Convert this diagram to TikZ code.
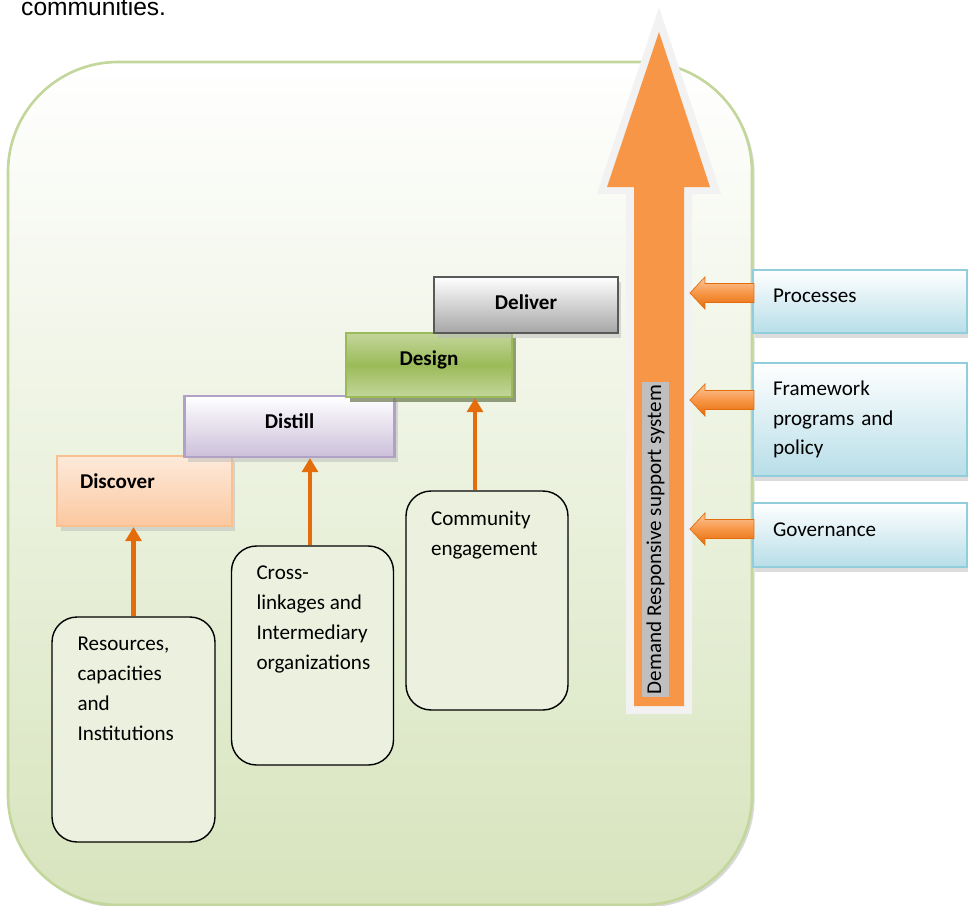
\documentclass[tikz,border=0pt]{standalone}
\usepackage{fontspec}
\setmainfont{Carlito}
\newfontfamily\arialfont{Liberation Sans}
\usepackage{tikz}
\usetikzlibrary{arrows.meta, positioning, shadows, calc}

\definecolor{frameline}{HTML}{C3D69B}
\definecolor{framebottom}{HTML}{D7E4BD}
\definecolor{boxgreen}{HTML}{EBF1DE}
\definecolor{peachtop}{HTML}{FDEADA}
\definecolor{peachbot}{HTML}{FBC8A0}
\definecolor{peachline}{HTML}{FAC090}
\definecolor{lilac}{HTML}{CCC0DA}
\definecolor{lilacline}{HTML}{B2A1C7}
\definecolor{olivelight}{HTML}{C3D69B}
\definecolor{olive}{HTML}{9BBB59}
\definecolor{olivedark}{HTML}{4F6228}
\definecolor{greymid}{HTML}{A6A6A6}
\definecolor{greydark}{HTML}{595959}
\definecolor{bluebot}{HTML}{B7DEE8}
\definecolor{blueline}{HTML}{92CDDC}
\definecolor{orangemain}{HTML}{F79646}
\definecolor{orangedark}{HTML}{E46C0A}
\definecolor{orangelight}{HTML}{FBC79F}
\definecolor{rimgrey}{HTML}{F2F2F2}
\definecolor{labelgrey}{HTML}{BFBFBF}

\begin{document}
\begin{tikzpicture}[x=0.02cm, y=-0.02cm,
    every node/.style={font=\fontsize{12}{17}\selectfont},
    frame/.style={draw=frameline, line width=1.5pt, rounded corners=2.2cm,
        top color=white, bottom color=framebottom,
        drop shadow={shadow xshift=1.5pt, shadow yshift=-1.5pt, fill=gray!60}},
    stair/.style={rectangle, line width=1.2pt, font=\fontsize{12}{14}\selectfont\bfseries,
        drop shadow={shadow xshift=2pt, shadow yshift=-3pt, fill=gray!55}},
    lowbox/.style={draw=black, line width=0.8pt, rounded corners=0.5cm, fill=boxgreen,
        inner xsep=0.5cm, inner ysep=0.4cm},
    sidebox/.style={rectangle, draw=blueline, line width=1.2pt, top color=white, bottom color=bluebot,
        minimum width=4.28cm, text width=3.48cm, inner xsep=0.4cm, align=left,
        drop shadow={shadow xshift=1pt, shadow yshift=-3pt, fill=gray!55}},
    syslabel/.style={rectangle, fill=labelgrey, rotate=90, inner sep=0pt,
        minimum width=6.3cm, minimum height=0.54cm, font=\fontsize{12}{14}\selectfont},
    feed/.style={-{Triangle[width=9pt, length=8pt]}, line width=2.3pt, orangedark},
    blockarrow/.style={draw=orangedark, line width=0.4pt, top color=orangelight,
        bottom color=orangedark, middle color=orangemain}
]
\useasboundingbox (0,0) rectangle (968,906);
\node[anchor=base west, font=\arialfont\fontsize{14}{16}\selectfont] (intro) at (15,15) {communities.};

% background panel
\path[frame] (8,62) rectangle (752,905);

% steps
\node[stair, draw=peachline, top color=peachtop, bottom color=peachbot, minimum width=3.5cm,
    minimum height=1.4cm, text width=2.58cm, inner xsep=0.46cm, align=left, text depth=11pt]
    (discover) at (144.5,491) {Discover};
\node[stair, draw=lilacline, top color=white, bottom color=lilac, minimum width=4.2cm,
    minimum height=1.22cm, text depth=6pt] (distill) at (289.5,426.5) {Distill};
\node[stair, draw=olive, top color=olivelight, bottom color=olivelight, middle color=olive,
    minimum width=3.32cm, minimum height=1.28cm, text depth=8pt,
    drop shadow={shadow xshift=2pt, shadow yshift=-3pt, fill=olivedark}] (design) at (429,365) {Design};
\node[stair, draw=greydark, top color=white, bottom color=greymid, minimum width=3.68cm,
    minimum height=1.12cm, text depth=3pt] (deliver) at (526,305) {Deliver};

% inputs below the steps
\node[lowbox, minimum width=3.26cm, minimum height=4.5cm] (res) at (133.5,729.5)
    {\parbox[c][3.7cm][t]{2.24cm}{Resources,\\capacities\\and\\Institutions}};
\node[lowbox, minimum width=3.22cm, minimum height=4.38cm] (cross) at (312.5,655.5)
    {\parbox[c][3.58cm][t]{2.24cm}{Cross-\\linkages and\\Intermediary\\organizations}};
\node[lowbox, minimum width=3.24cm, minimum height=4.38cm] (comm) at (487,600.5)
    {\parbox[c][3.58cm][t]{2.24cm}{Community\\engagement}};

\draw[feed] (res.north) -- (res.north |- discover.south);
\draw[feed] ([xshift=-0.05cm]cross.north) -- ([xshift=-0.05cm]cross.north |- distill.south);
\draw[feed] ([xshift=-0.24cm]comm.north) -- ([xshift=-0.24cm]comm.north |- design.south);

% big upward arrow
\fill[rimgrey] (659,7) -- (721,194) -- (692,194) -- (692,714) -- (626,714) -- (626,194) -- (597,194) -- cycle;
\fill[orangemain] (659,32) -- (710,187) -- (684,187) -- (684,706) -- (634,706) -- (634,187) -- (607,187) -- cycle;
\node[syslabel] (system) at (655.5,539.5) {Demand Responsive support system};

% side boxes
\node[sidebox, minimum height=1.26cm, text depth=6pt] (proc) at (860,301.5) {Processes};
\node[sidebox, minimum height=2.26cm] (frmwk) at (860,419.5) {Framework\\programs and\\policy};
\node[sidebox, minimum height=1.28cm, text depth=6pt] (gov) at (860,535) {Governance};

\foreach \src/\dy in {proc/-8.5, frmwk/-19.5, gov/-6} {
    \path[blockarrow] ($(\src.west)+(2,\dy-9.5)$) -- ++(-49,0) -- ++(0,-6.5) -- ++(-15,16)
        -- ++(15,16) -- ++(0,-6.5) -- ++(49,0) -- cycle;
}
\end{tikzpicture}
\end{document}
